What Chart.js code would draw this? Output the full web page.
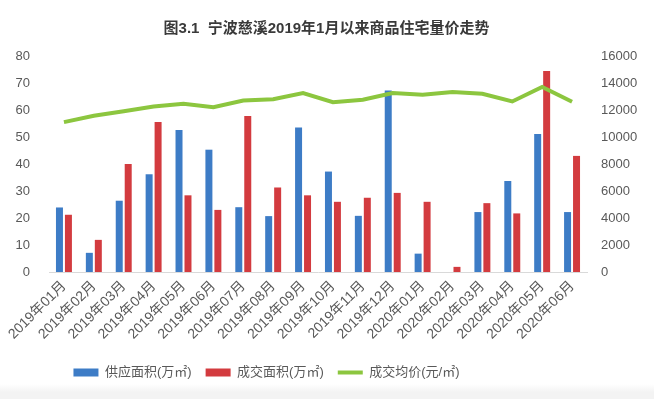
<!DOCTYPE html>
<html>
<head>
<meta charset="utf-8">
<script src="https://cdn.jsdelivr.net/npm/chart.js@4/dist/chart.umd.min.js"></script>
<style>
    html, body {
        margin: 0;
        padding: 0;
        width: 654px;
        height: 399px;
        overflow: hidden;
        background: linear-gradient(to bottom, #ffffff 0px, #ffffff 384px, #f3f3f3 392px, #f3f3f3 399px);
    }
    canvas { display: block; }
</style>
</head>
<body>
<canvas id="priceChart" width="654" height="399"></canvas>
<script>
// Months on the x axis
const months = [
    '2019年01月', '2019年02月', '2019年03月', '2019年04月', '2019年05月', '2019年06月',
    '2019年07月', '2019年08月', '2019年09月', '2019年10月', '2019年11月', '2019年12月',
    '2020年01月', '2020年02月', '2020年03月', '2020年04月', '2020年05月', '2020年06月'
];

// Supply area and deal area (万㎡), left axis
const supplyArea = [23.9, 7.1, 26.4, 36.2, 52.6, 45.3, 24.0, 20.7, 53.5, 37.2, 20.8, 67.2, 6.8, 0, 22.2, 33.7, 51.1, 22.2];
const dealArea = [21.2, 11.9, 40.0, 55.6, 28.4, 23.0, 57.8, 31.3, 28.4, 26.0, 27.5, 29.3, 26.0, 1.9, 25.5, 21.7, 74.4, 43.0];

// Average deal price (元/㎡), right axis
const avgPrice = [11100, 11570, 11900, 12260, 12460, 12210, 12700, 12800, 13250, 12580, 12755, 13250, 13130, 13325, 13200, 12630, 13700, 12610];

// Axis ranges
const leftTicks = [0, 10, 20, 30, 40, 50, 60, 70, 80];
const rightTicks = [0, 2000, 4000, 6000, 8000, 10000, 12000, 14000, 16000];

const seriesNames = ['供应面积(万㎡)', '成交面积(万㎡)', '成交均价(元/㎡)'];

const BLUE = '#3d7cc6';
const RED = '#d33b3f';
const GREEN = '#8cc63f';
const FONT = "'Liberation Sans', 'Noto Sans CJK SC', sans-serif";

// Excel puts the legend a bit left of centre, so nudge it after layout
const legendShift = {
    id: 'legendShift',
    afterLayout(chart) {
        const legend = chart.legend;
        if (legend) {
            legend.left -= 60;
            legend.right -= 60;
        }
    }
};

const ctx = document.getElementById('priceChart').getContext('2d');

new Chart(ctx, {
    data: {
        labels: months,
        datasets: [
            {
                type: 'bar',
                label: seriesNames[0],
                data: supplyArea,
                backgroundColor: BLUE,
                yAxisID: 'y',
                categoryPercentage: 0.6,
                barPercentage: 0.78,
                order: 1
            },
            {
                type: 'bar',
                label: seriesNames[1],
                data: dealArea,
                backgroundColor: RED,
                yAxisID: 'y',
                categoryPercentage: 0.6,
                barPercentage: 0.78,
                order: 1
            },
            {
                type: 'line',
                label: seriesNames[2],
                data: avgPrice,
                borderColor: GREEN,
                backgroundColor: GREEN,
                borderWidth: 4,
                pointRadius: 0,
                tension: 0,
                yAxisID: 'y1',
                order: 0
            }
        ]
    },
    plugins: [legendShift],
    options: {
        responsive: false,
        animation: false,
        devicePixelRatio: 1,
        layout: {
            padding: { left: 15, right: 16, top: 0, bottom: 10 }
        },
        plugins: {
            title: {
                display: true,
                text: '图3.1  宁波慈溪2019年1月以来商品住宅量价走势',
                color: '#3a3a3a',
                font: { family: FONT, size: 15, weight: 'bold' },
                padding: { top: 20, bottom: 18 }
            },
            legend: {
                position: 'bottom',
                labels: {
                    color: '#595959',
                    font: { family: FONT, size: 13 },
                    usePointStyle: true,
                    pointStyleWidth: 25,
                    boxHeight: 8,
                    padding: 14,
                    generateLabels(chart) {
                        const items = Chart.defaults.plugins.legend.labels.generateLabels(chart);
                        items.sort((a, b) => a.datasetIndex - b.datasetIndex);
                        items.forEach(item => {
                            if (item.datasetIndex === 2) {
                                item.pointStyle = 'line';
                                item.lineWidth = 4;
                                item.strokeStyle = GREEN;
                            } else {
                                item.pointStyle = 'rect';
                                item.lineWidth = 0;
                            }
                        });
                        return items;
                    }
                }
            },
            tooltip: { enabled: false }
        },
        scales: {
            x: {
                offset: true,
                grid: { display: false, drawTicks: false },
                border: { display: true, color: '#d9d9d9', width: 1 },
                ticks: {
                    color: '#595959',
                    font: { family: FONT, size: 14 },
                    minRotation: 45,
                    maxRotation: 45,
                    autoSkip: false,
                    padding: 6
                },
                afterFit(scale) {
                    scale.height = 80;
                    scale.paddingLeft = 0;
                    scale.paddingRight = 0;
                }
            },
            y: {
                position: 'left',
                min: leftTicks[0],
                max: leftTicks[leftTicks.length - 1],
                grid: { display: false, drawTicks: false },
                border: { display: false },
                afterBuildTicks(scale) {
                    scale.ticks = leftTicks.map(v => ({ value: v }));
                },
                afterFit(scale) {
                    scale.width = 34;
                },
                ticks: {
                    color: '#595959',
                    font: { family: FONT, size: 13 },
                    padding: 19
                }
            },
            y1: {
                position: 'right',
                min: rightTicks[0],
                max: rightTicks[rightTicks.length - 1],
                grid: { display: false, drawTicks: false },
                border: { display: false },
                afterBuildTicks(scale) {
                    scale.ticks = rightTicks.map(v => ({ value: v }));
                },
                afterFit(scale) {
                    scale.width = 51;
                },
                ticks: {
                    color: '#595959',
                    font: { family: FONT, size: 13 },
                    padding: 14,
                    callback: (value) => String(value)
                }
            }
        }
    }
});
</script>
</body>
</html>
